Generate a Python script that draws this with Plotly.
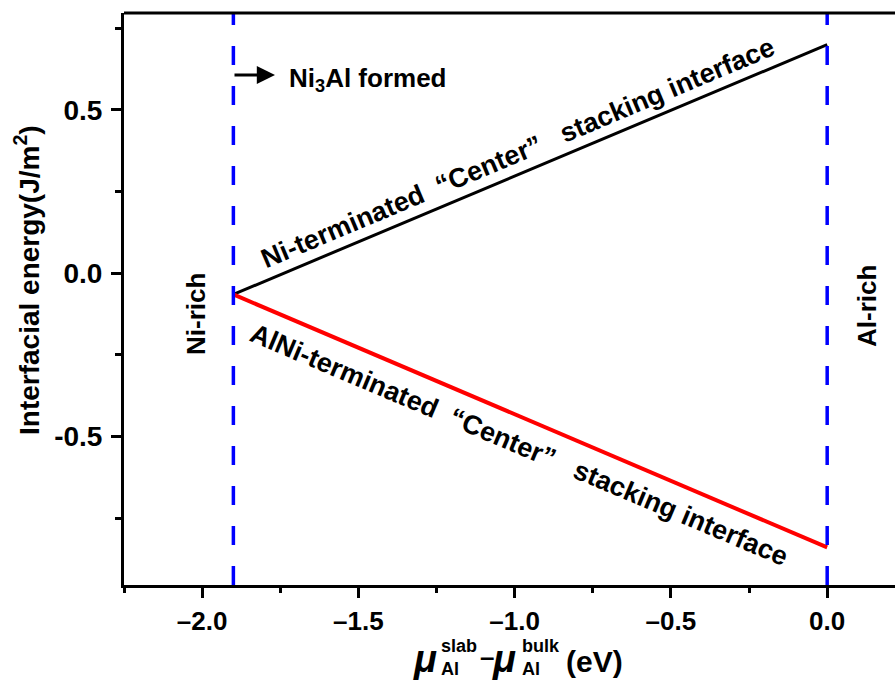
import plotly.graph_objects as go

# ---- data ----
mu_range = [-1.9, 0.0]                  # chemical potential limits (eV)
ni_term_energy = [-0.065, 0.70]         # Ni-terminated "Center" (J/m^2)
alni_term_energy = [-0.065, -0.84]      # AlNi-terminated "Center" (J/m^2)
ni3al_limit = -1.9
al_rich_limit = 0.0
y_ticks = [-0.5, 0.0, 0.5]
y_ticktext = ["-0.5", "0.0", "0.5"]
x_ticks = [-2.0, -1.5, -1.0, -0.5, 0.0]
x_ticktext = ["\u20132.0", "\u20131.5", "\u20131.0", "\u20130.5", "0.0"]

W, H = 895, 682
L, R, T, B = 124, 0, 13, 97
XR = [-2.25, 0.217]
YR = [-0.955, 0.797]
FONT = "Liberation Sans, Arial, sans-serif"

def px(x):
    return (x - L) / (W - L - R)

def py(y):
    return (H - B - y) / (H - T - B)

fig = go.Figure()
fig.add_trace(go.Scatter(x=mu_range, y=ni_term_energy, mode="lines",
                         line=dict(color="black", width=3), showlegend=False))
fig.add_trace(go.Scatter(x=mu_range, y=alni_term_energy, mode="lines",
                         line=dict(color="#ff0000", width=4), showlegend=False))

for xv in [ni3al_limit, al_rich_limit]:
    fig.add_shape(type="line", xref="x", yref="paper", x0=xv, x1=xv, y0=0, y1=1,
                  line=dict(color="#0000ff", width=3.5, dash="19px,21px"), layer="above")

# top border
fig.add_shape(type="line", xref="paper", yref="paper", x0=0, x1=1, y0=1, y1=1,
              line=dict(color="black", width=3))

bold = dict(family=FONT, color="black", weight="bold")
S2 = "\u00a0\u00a0"
S3 = "\u00a0\u00a0\u00a0"

ann = []
def a(**kw):
    kw.setdefault("xanchor", "center")
    kw.setdefault("yanchor", "middle")
    kw.setdefault("showarrow", False)
    ann.append(kw)

a(xref="x", yref="y", x=-0.99, y=0.368,
  text="Ni-terminated" + S2 + "\u201cCenter\u201d" + S3 + "stacking interface",
  textangle=-22.8, font=dict(size=27, **bold))
a(xref="x", yref="y", x=-0.985, y=-0.525,
  text="AlNi-terminated" + S2 + "\u201cCenter\u201d" + S3 + "stacking interface",
  textangle=22.9, font=dict(size=27, **bold))
a(xref="paper", yref="paper", x=px(196), y=py(314), text="Ni-rich",
  textangle=-90, font=dict(size=26, **bold))
a(xref="paper", yref="paper", x=px(867), y=py(306), text="Al-rich",
  textangle=-90, font=dict(size=26, **bold))
a(xref="paper", yref="paper", x=px(287), y=py(79), xanchor="left",
  text="Ni<sub>3</sub>Al formed", font=dict(size=26, **bold))
ann.append(dict(xref="paper", yref="paper", x=px(275), y=py(75), text="",
                showarrow=True, ax=-42, ay=0, arrowhead=2, arrowsize=1.3,
                arrowwidth=2.8, arrowcolor="black"))
a(xref="paper", yref="paper", x=px(27), y=py(280), textangle=-90,
  text="Interfacial energy(J/m<sup>2</sup>)", font=dict(size=28, **bold))

# x-axis title built from pieces (stacked super/subscripts)
def t(xp, yp, s, size, italic=False):
    f = dict(size=size, family=FONT, color="black", weight="bold")
    if italic:
        f["style"] = "italic"
    a(xref="paper", yref="paper", x=px(xp), y=py(yp), xanchor="left",
      align="left", text=s, font=f)

t(411, 659, "\u03bc", 38, italic=True)
t(439, 657, "slab<br>Al", 18)
t(478, 657, "\u2013", 26)
t(490, 659, "\u03bc", 38, italic=True)
t(520, 657, "bulk<br>Al", 18)
t(564, 661, "(eV)", 30)

fig.update_layout(
    width=W, height=H,
    margin=dict(l=L, r=R, t=T, b=B, pad=0),
    plot_bgcolor="white", paper_bgcolor="white",
    annotations=ann,
    font=dict(family=FONT, color="black"),
    xaxis=dict(range=XR, showgrid=False, zeroline=False, showline=True,
               linecolor="black", linewidth=3, ticks="outside", ticklen=10,
               tickwidth=3, tickcolor="black", tickvals=x_ticks, ticktext=x_ticktext,
               tickfont=dict(size=26, family=FONT, color="black", weight="bold"),
               ticklabelstandoff=1,
               minor=dict(tickvals=[-2.25, -1.75, -1.25, -0.75, -0.25], ticks="outside",
                          ticklen=5, tickwidth=3, tickcolor="black")),
    yaxis=dict(range=YR, showgrid=False, zeroline=False, showline=True,
               linecolor="black", linewidth=3, ticks="outside", ticklen=10,
               tickwidth=3, tickcolor="black", tickvals=y_ticks, ticktext=y_ticktext,
               tickfont=dict(size=28, family=FONT, color="black", weight="bold"),
               ticklabelstandoff=3,
               minor=dict(tickvals=[-0.75, -0.25, 0.25, 0.75], ticks="outside",
                          ticklen=6, tickwidth=3, tickcolor="black")),
)

fig.write_html("out.html")
